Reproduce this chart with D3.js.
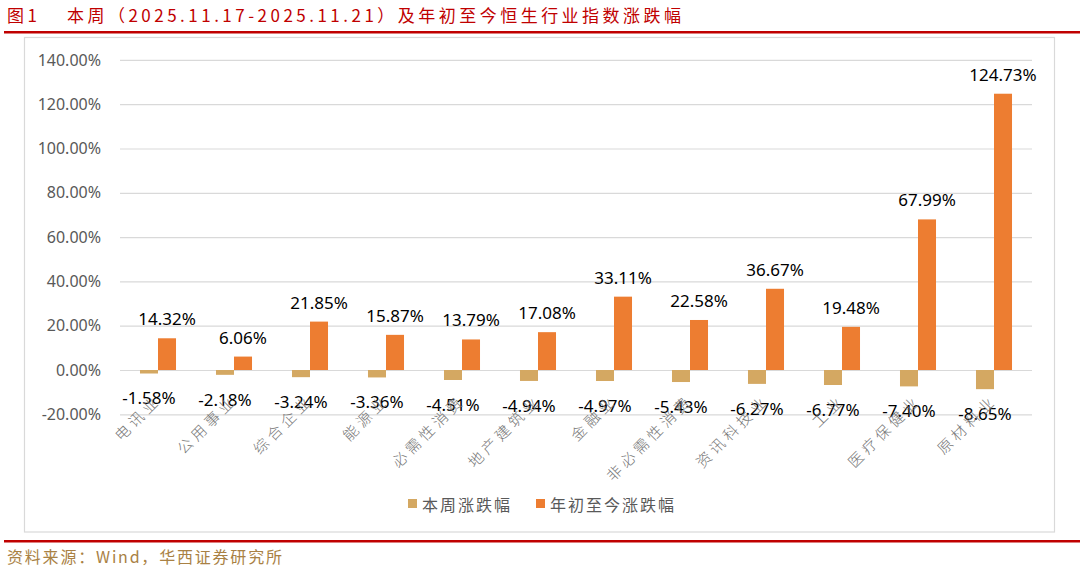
<!DOCTYPE html>
<html>
<head>
<meta charset="utf-8">
<script src="https://cdn.jsdelivr.net/npm/d3@7"></script>
<style>
  body { margin: 0; background: #fff; }
  svg { display: block; }
</style>
</head>
<body>
<svg id="chart" width="1080" height="569"></svg>
<script>
// data
const categories = ["电讯业", "公用事业", "综合企业", "能源业", "必需性消费", "地产建筑业",
  "金融业", "非必需性消费", "资讯科技业", "工业", "医疗保健业", "原材料业"];
const weekChange = [-1.58, -2.18, -3.24, -3.36, -4.51, -4.94, -4.97, -5.43, -6.27, -6.77, -7.40, -8.65];
const ytdChange = [14.32, 6.06, 21.85, 15.87, 13.79, 17.08, 33.11, 22.58, 36.67, 19.48, 67.99, 124.73];
const yTicks = [-20, 0, 20, 40, 60, 80, 100, 120, 140];
const seriesNames = ["本周涨跌幅", "年初至今涨跌幅"];
const colors = ["#D4A862", "#ED7D31"];

const svg = d3.select("#chart");
const red = "#C00000";
const cjk = "'Noto Sans CJK SC', 'Noto Sans', sans-serif";

// title and rules
svg.append("text")
  .attr("x", 7).attr("y", 22)
  .attr("fill", red).attr("font-size", 17).attr("font-family", cjk)
  .attr("textLength", 30).attr("lengthAdjust", "spacing")
  .text("图 1");
svg.append("text")
  .attr("x", 67).attr("y", 22)
  .attr("fill", red).attr("font-size", 17).attr("font-family", cjk)
  .attr("textLength", 614).attr("lengthAdjust", "spacing")
  .text("本周（2025.11.17-2025.11.21）及年初至今恒生行业指数涨跌幅");
svg.append("rect").attr("x", 4).attr("y", 31).attr("width", 1076).attr("height", 2.5).attr("fill", red);

// chart frame
svg.append("rect")
  .attr("x", 24.5).attr("y", 37.5).attr("width", 1030).attr("height", 494.5)
  .attr("fill", "#fff").attr("stroke", "#d9d9d9").attr("stroke-width", 1.2);

// scales
const y = d3.scaleLinear().domain([-20, 140]).range([414.3, 59.9]);
const x0 = d3.scaleBand().domain(categories).range([120, 1032])
  .paddingInner(0.526).paddingOuter(0.263);
const x1 = d3.scaleBand().domain([0, 1]).range([0, x0.bandwidth()]);

// grid + y axis labels
const yAxis = d3.axisLeft(y).tickValues(yTicks).tickSize(-(1032 - 120))
  .tickPadding(19).tickFormat(d => d.toFixed(2) + "%");
const gy = svg.append("g").attr("transform", "translate(120,0)").call(yAxis);
gy.select(".domain").remove();
gy.selectAll(".tick line").attr("stroke", "#d9d9d9").attr("stroke-width", 1.2);
gy.selectAll(".tick text")
  .attr("fill", "#595959").attr("font-size", 16).attr("font-family", "'Noto Sans', sans-serif");

// bars
const rows = categories.map((c, i) => ({ cat: c, vals: [weekChange[i], ytdChange[i]] }));
const groups = svg.append("g").selectAll("g")
  .data(rows).join("g")
  .attr("transform", d => `translate(${x0(d.cat)},0)`);

groups.selectAll("rect")
  .data(d => d.vals.map((v, k) => ({ v, k })))
  .join("rect")
  .attr("x", d => x1(d.k))
  .attr("width", x1.bandwidth())
  .attr("y", d => y(Math.max(0, d.v)))
  .attr("height", d => Math.abs(y(d.v) - y(0)))
  .attr("fill", d => colors[d.k]);

// category labels (rotated)
svg.append("g").selectAll("text")
  .data(categories).join("text")
  .attr("transform", d => `translate(${x0(d) + x0.bandwidth() / 2 - 1},397) rotate(-45)`)
  .attr("text-anchor", "end")
  .attr("dominant-baseline", "central")
  .attr("fill", "#767676").attr("font-size", 15).attr("font-family", cjk)
  .attr("font-weight", 300)
  .attr("letter-spacing", 4)
  .text(d => d);

// value labels
groups.selectAll("text.val")
  .data(d => d.vals.map((v, k) => ({ v, k })))
  .join("text")
  .attr("class", "val")
  .attr("x", d => x1(d.k) + x1.bandwidth() / 2)
  .attr("y", d => d.v < 0 ? y(d.v) + 31 : y(d.v) - 13)
  .attr("text-anchor", "middle")
  .attr("fill", "#000").attr("font-size", 17).attr("font-family", "'Noto Sans', sans-serif")
  .text(d => d.v.toFixed(2) + "%");

// legend
const legendX = [408, 536];
const legend = svg.append("g").selectAll("g")
  .data(seriesNames).join("g")
  .attr("transform", (d, i) => `translate(${legendX[i]},499)`);
legend.append("rect").attr("width", 9).attr("height", 9).attr("fill", (d, i) => colors[i]);
legend.append("text")
  .attr("x", 14).attr("y", 4.5).attr("dominant-baseline", "central")
  .attr("fill", "#595959").attr("font-size", 16).attr("font-family", cjk)
  .attr("letter-spacing", 2)
  .text(d => d);

// footer
svg.append("rect").attr("x", 4).attr("y", 540).attr("width", 1076).attr("height", 2.5).attr("fill", red);
svg.append("text")
  .attr("x", 7).attr("y", 563)
  .attr("fill", "#A98144").attr("font-size", 16).attr("font-family", cjk)
  .attr("textLength", 275).attr("lengthAdjust", "spacing")
  .text("资料来源：Wind，华西证券研究所");
</script>
</body>
</html>
